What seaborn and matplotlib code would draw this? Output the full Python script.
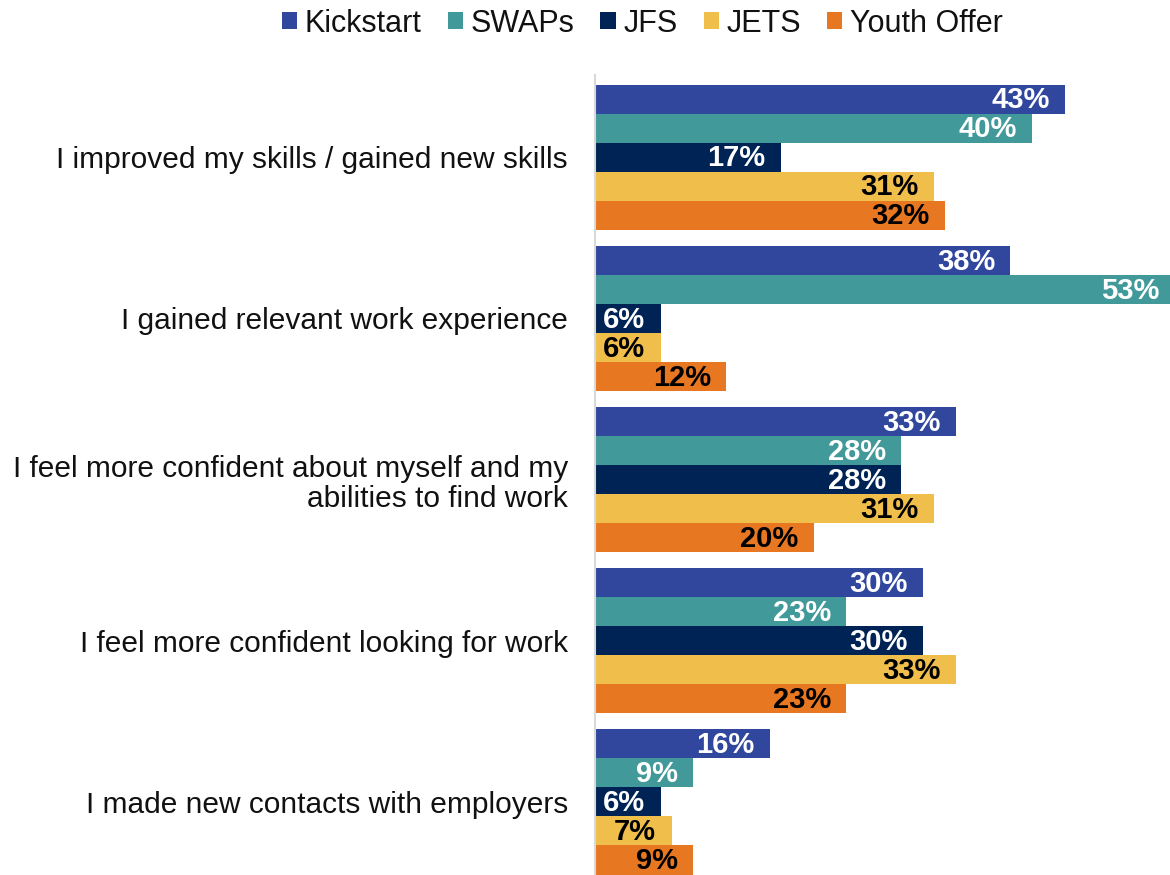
import matplotlib
matplotlib.use("Agg")
import matplotlib.pyplot as plt
import seaborn as sns
import pandas as pd
from matplotlib.patches import Patch

# Survey outcomes by programme (% of participants)
statements = [
    "I improved my skills / gained new skills",
    "I gained relevant work experience",
    "I feel more confident about myself and my\nabilities to find work",
    "I feel more confident looking for work",
    "I made new contacts with employers",
]
programmes = ["Kickstart", "SWAPs", "JFS", "JETS", "Youth Offer"]

kickstart = [43, 38, 33, 30, 16]
swaps = [40, 53, 28, 23, 9]
jfs = [17, 6, 28, 30, 6]
jets = [31, 6, 31, 33, 7]
youth_offer = [32, 12, 20, 23, 9]

colors = ["#31479E", "#419A99", "#002355", "#F0BE4A", "#E87722"]
label_colors = ["white", "white", "white", "black", "black"]

series = [kickstart, swaps, jfs, jets, youth_offer]
rows = []
for prog, vals in zip(programmes, series):
    for stmt, v in zip(statements, vals):
        rows.append({"statement": stmt, "programme": prog, "pct": v})
df = pd.DataFrame(rows)

sns.set_style("white")
plt.rcParams["font.family"] = ["Liberation Sans", "DejaVu Sans"]

fig = plt.figure(figsize=(11.7, 8.75), dpi=100)
ax = fig.add_axes([595 / 1170, 0.0, 1 - 595 / 1170, 800 / 875])

sns.barplot(
    data=df, y="statement", x="pct", hue="programme",
    order=statements, hue_order=programmes,
    palette=colors, orient="h", width=0.9, saturation=1,
    linewidth=0, legend=False, ax=ax,
)

ax.set_xlim(0, 52.6)
ax.set_ylim(4.453, -0.509)

# Value labels, right-aligned inside the end of each bar
for cont, vals, tc in zip(ax.containers, series, label_colors):
    for patch, v in zip(cont.patches, vals):
        y = patch.get_y() + patch.get_height() / 2
        ax.annotate(
            f"{v}%", xy=(patch.get_width(), y), xytext=(-11, -1),
            textcoords="offset points", ha="right", va="center",
            fontsize=21, fontweight="bold", color=tc,
            annotation_clip=False,
        )

ax.set_xlabel("")
ax.set_ylabel("")
ax.set_xticks([])
ax.tick_params(axis="y", length=0, pad=19.5, labelsize=21.5, colors="#111111")
for lbl in ax.get_yticklabels():
    lbl.set_linespacing(1.12)
for side in ["top", "right", "bottom"]:
    ax.spines[side].set_visible(False)
ax.spines["left"].set_color("#D9D9D9")
ax.spines["left"].set_linewidth(1.5)

handles = [Patch(facecolor=c, edgecolor="none") for c in colors]
fig.legend(
    handles, programmes, loc="center", bbox_to_anchor=(0.549, 0.973),
    ncol=5, frameon=False, fontsize=22, labelcolor="#111111",
    handlelength=0.5, handleheight=0.5,
    handletextpad=0.25, columnspacing=0.85, borderaxespad=0,
)

fig.savefig("out.png", dpi=100)
